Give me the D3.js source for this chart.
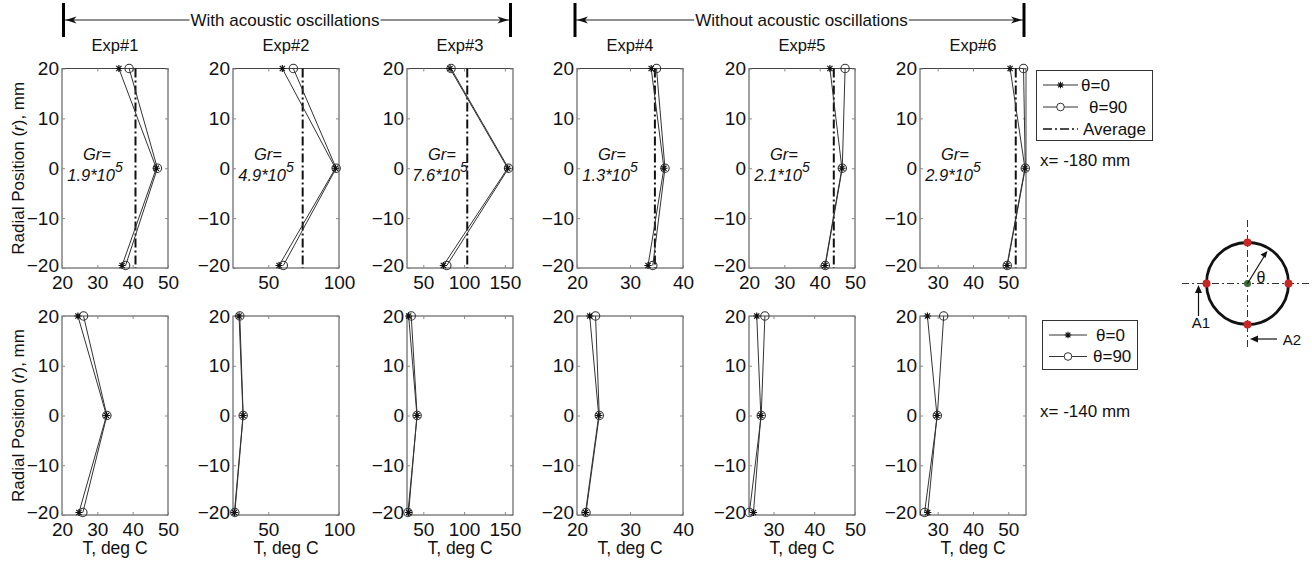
<!DOCTYPE html>
<html><head><meta charset="utf-8">
<script src="https://cdn.jsdelivr.net/npm/d3@7"></script>
<style>
body{margin:0;background:#fff}
svg{display:block}
text{font-family:"Liberation Sans",Arial,Helvetica,sans-serif;fill:#111}
</style>
</head><body>
<svg id="c" width="1312" height="562"></svg>
<script>
// ---------------- data ----------------
const experiments = ["Exp#1","Exp#2","Exp#3","Exp#4","Exp#5","Exp#6"];
const radialPos = [20, 0, -19.5];
const grMantissa = ["1.9","4.9","7.6","1.3","2.1","2.9"];
const yTicks = [-20,-10,0,10,20];

// x = -180 mm (top row)
const topDomains = [[20,50],[25,100],[30,160],[20,40],[20,50],[25,55]];
const topTicks = [[20,30,40,50],[50,100],[50,100,150],[20,30,40],[20,30,40,50],[30,40,50]];
const topTheta0 = [
  [36.1, 46.7, 37.0],
  [59.9, 97.5, 57.6],
  [82.8,153.5, 74.6],
  [34.0, 36.4, 33.4],
  [42.9, 46.3, 41.5],
  [50.5, 54.7, 49.6]
];
const topTheta90 = [
  [39.0, 47.0, 38.0],
  [67.7, 98.0, 60.6],
  [84.0,154.5, 78.8],
  [35.0, 36.6, 34.3],
  [47.2, 46.4, 41.6],
  [54.3, 54.8, 49.7]
];
const topAverage = [40.8, 74.3, 103.9, 34.7, 44.0, 52.1];

// x = -140 mm (bottom row)
const botDomains = [[20,50],[25,100],[30,160],[20,40],[24,50],[25,55]];
const botTicks = [[20,30,40,50],[50,100],[50,100,150],[20,30,40],[30,40,50],[30,40,50]];
const botTheta0 = [
  [24.5, 32.6, 24.8],
  [29.3, 32.1, 26.0],
  [32.0, 42.2, 32.0],
  [22.4, 24.1, 21.6],
  [25.9, 26.9, 25.1],
  [27.1, 29.8, 27.2]
];
const botTheta90 = [
  [26.1, 32.7, 25.9],
  [29.8, 32.2, 26.3],
  [35.2, 42.4, 31.2],
  [23.5, 24.2, 21.7],
  [27.9, 27.0, 24.1],
  [31.7, 29.9, 26.3]
];

// ---------------- layout ----------------
const svg = d3.select("#c");
const panelLeft = [62, 233, 407, 577, 749, 920];
const panelW = 106;
const rows = [
  {top:68.5, bottom:268, domains:topDomains, ticks:topTicks, s0:topTheta0, s90:topTheta90, avg:topAverage, gr:true},
  {top:316, bottom:515, domains:botDomains, ticks:botTicks, s0:botTheta0, s90:botTheta90, avg:null, gr:false}
];
const lineCol = "#333";

function starPath(s){
  const a = s*0.72;
  return `M${-s},0H${s}M0,${-s}V${s}M${-a},${-a}L${a},${a}M${-a},${a}L${a},${-a}`;
}

rows.forEach((row, ri) => {
  const y = d3.scaleLinear().domain([-20,20]).range([row.bottom,row.top]);
  panelLeft.forEach((left, i) => {
    const x = d3.scaleLinear().domain(row.domains[i]).range([left, left+panelW]);
    const g = svg.append("g");
    g.append("rect").attr("x",left).attr("y",row.top).attr("width",panelW)
      .attr("height",row.bottom-row.top).attr("fill","none").attr("stroke","#444").attr("stroke-width",1);
    const ax = g.append("g").attr("transform",`translate(0,${row.bottom})`)
      .call(d3.axisBottom(x).tickValues(row.ticks[i]).tickSizeInner(-3).tickSizeOuter(0).tickPadding(7));
    const axT = g.append("g").attr("transform",`translate(0,${row.top})`)
      .call(d3.axisTop(x).tickValues(row.ticks[i]).tickSizeInner(-3).tickSizeOuter(0).tickFormat(""));
    const ay = g.append("g").attr("transform",`translate(${left},0)`)
      .call(d3.axisLeft(y).tickValues(yTicks).tickSizeInner(-3).tickSizeOuter(0).tickPadding(3));
    const ayR = g.append("g").attr("transform",`translate(${left+panelW},0)`)
      .call(d3.axisRight(y).tickValues(yTicks).tickSizeInner(-3).tickSizeOuter(0).tickFormat(""));
    [ax,axT,ay,ayR].forEach(a => {
      a.select(".domain").remove();
      a.selectAll("line").attr("stroke","#888");
      a.selectAll("text").attr("font-size",19).attr("fill","#111")
        .style("font-family","'Liberation Sans',Arial,sans-serif");
    });
    ax.selectAll("text").attr("dy","0.74em");
    ay.selectAll("text").filter(d => d === -20).attr("dy","0.2em");
    if (row.avg) {
      g.append("line").attr("x1",x(row.avg[i])).attr("x2",x(row.avg[i]))
        .attr("y1",y(20)).attr("y2",y(-20)).attr("stroke","#111").attr("stroke-width",2)
        .attr("stroke-dasharray","9,3,2,3");
    }
    const line = d3.line().x(d=>x(d[0])).y(d=>y(d[1]));
    const d0 = row.s0[i].map((v,k)=>[v,radialPos[k]]);
    const d90 = row.s90[i].map((v,k)=>[v,radialPos[k]]);
    g.append("path").attr("d",line(d90)).attr("fill","none").attr("stroke",lineCol).attr("stroke-width",1);
    g.append("path").attr("d",line(d0)).attr("fill","none").attr("stroke",lineCol).attr("stroke-width",1);
    g.selectAll(".c90").data(d90).enter().append("circle")
      .attr("cx",d=>x(d[0])).attr("cy",d=>y(d[1])).attr("r",4.2)
      .attr("fill","none").attr("stroke",lineCol).attr("stroke-width",1.1);
    g.selectAll(".s0").data(d0).enter().append("path")
      .attr("transform",d=>`translate(${x(d[0])},${y(d[1])})`).attr("d",starPath(3.6))
      .attr("stroke","#111").attr("stroke-width",1.2).attr("fill","none");
    if (row.gr) {
      const cx = left + 35, mid = (row.top+row.bottom)/2;
      g.append("text").attr("x",cx).attr("y",mid-8).attr("text-anchor","middle")
        .attr("font-size",16.5).attr("font-style","italic").text("Gr=");
      const t = g.append("text").attr("x",cx-2).attr("y",mid+13).attr("text-anchor","middle")
        .attr("font-size",16.5).attr("font-style","italic");
      t.append("tspan").text(grMantissa[i]+"*10");
      t.append("tspan").attr("dy",-9).attr("font-size",14).text("5");
    }
    if (ri===0) {
      svg.append("text").attr("x",left+panelW/2).attr("y",51).attr("text-anchor","middle")
        .attr("font-size",16.5).text(experiments[i]);
    } else {
      svg.append("text").attr("x",left+panelW/2).attr("y",554).attr("text-anchor","middle")
        .attr("font-size",17.5).text("T, deg C");
    }
    if (i===0) {
      const ty = svg.append("text").attr("transform",`translate(18,${(row.top+row.bottom)/2}) rotate(-90)`)
        .attr("text-anchor","middle").attr("dominant-baseline","central").attr("font-size",17);
      ty.append("tspan").text("Radial Position (");
      ty.append("tspan").attr("font-style","italic").text("r");
      ty.append("tspan").text("), mm");
    }
  });
});

// ---------------- brackets ----------------
const brackets = [
  {label:"With acoustic oscillations", x0:63.5, x1:510.5, cx:285},
  {label:"Without acoustic oscillations", x0:575, x1:1024, cx:801.5}
];
brackets.forEach(b => {
  const yy = 20;
  const t = svg.append("text").attr("x",b.cx).attr("y",yy+6).attr("text-anchor","middle")
    .attr("font-size",17).text(b.label);
  const w = t.node().getComputedTextLength();
  svg.append("line").attr("x1",b.x0).attr("x2",b.cx-w/2-1).attr("y1",yy).attr("y2",yy).attr("stroke","#222").attr("stroke-width",1);
  svg.append("line").attr("x1",b.cx+w/2+1).attr("x2",b.x1).attr("y1",yy).attr("y2",yy).attr("stroke","#222").attr("stroke-width",1);
  [b.x0,b.x1].forEach(xb => {
    svg.append("line").attr("x1",xb).attr("x2",xb).attr("y1",3).attr("y2",37).attr("stroke","#000").attr("stroke-width",3);
  });
  svg.append("path").attr("d",`M${b.x0+2},${yy}L${b.x0+13},${yy-3.5}L${b.x0+10},${yy}L${b.x0+13},${yy+3.5}Z`).attr("fill","#111");
  svg.append("path").attr("d",`M${b.x1-2},${yy}L${b.x1-13},${yy-3.5}L${b.x1-10},${yy}L${b.x1-13},${yy+3.5}Z`).attr("fill","#111");
});

// ---------------- legends ----------------
function legend(x0,y0,w,h,items){
  const g = svg.append("g");
  g.append("rect").attr("x",x0).attr("y",y0).attr("width",w).attr("height",h)
    .attr("fill","#fff").attr("stroke","#333").attr("stroke-width",1);
  items.forEach(it => {
    const ln = g.append("line").attr("x1",it.lx0).attr("x2",it.lx1).attr("y1",it.y).attr("y2",it.y)
      .attr("stroke",it.type==="avg"?"#111":lineCol).attr("stroke-width",it.type==="avg"?1.5:1);
    const mx = (it.lx0+it.lx1)/2;
    if (it.type==="avg") ln.attr("stroke-dasharray","9,3,2,3");
    if (it.type==="star") g.append("path").attr("transform",`translate(${mx},${it.y})`).attr("d",starPath(3.3))
      .attr("stroke","#111").attr("stroke-width",1.1);
    if (it.type==="circ") g.append("circle").attr("cx",mx).attr("cy",it.y).attr("r",3.8)
      .attr("fill","#fff").attr("stroke",lineCol);
    g.append("text").attr("x",it.tx).attr("y",it.y).attr("dominant-baseline","central")
      .attr("font-size",17).text(it.label);
  });
}
legend(1036.5,70.5,116,70,[
  {type:"star",label:"\u03b8=0",y:85,lx0:1043,lx1:1078,tx:1081},
  {type:"circ",label:"\u03b8=90",y:107,lx0:1043,lx1:1078,tx:1089},
  {type:"avg",label:"Average",y:129,lx0:1043,lx1:1078,tx:1083}
]);
legend(1042.5,320.5,95,49,[
  {type:"star",label:"\u03b8=0",y:335,lx0:1049,lx1:1087,tx:1096},
  {type:"circ",label:"\u03b8=90",y:356.5,lx0:1049,lx1:1087,tx:1093}
]);
svg.append("text").attr("x",1040).attr("y",160).attr("dominant-baseline","central").attr("font-size",17).text("x= -180 mm");
svg.append("text").attr("x",1040).attr("y",411.5).attr("dominant-baseline","central").attr("font-size",17).text("x= -140 mm");

// ---------------- cross-section sketch ----------------
const cxc = 1247.5, cyc = 283.5, rc = 41;
const sk = svg.append("g");
sk.append("line").attr("x1",1182).attr("x2",1311).attr("y1",cyc).attr("y2",cyc)
  .attr("stroke","#333").attr("stroke-width",1).attr("stroke-dasharray","7,3,2,3");
sk.append("line").attr("x1",cxc).attr("x2",cxc).attr("y1",220).attr("y2",347)
  .attr("stroke","#333").attr("stroke-width",1).attr("stroke-dasharray","7,3,2,3");
sk.append("circle").attr("cx",cxc).attr("cy",cyc).attr("r",rc).attr("fill","none").attr("stroke","#111").attr("stroke-width",2.8);
[[0,-1],[1,0],[0,1],[-1,0]].forEach(([dx,dy]) => {
  sk.append("circle").attr("cx",cxc+dx*rc).attr("cy",cyc+dy*rc).attr("r",4).attr("fill","#c62828");
});
sk.append("circle").attr("cx",cxc).attr("cy",cyc).attr("r",3.5).attr("fill","#3d6b3a");
sk.append("line").attr("x1",cxc).attr("y1",cyc).attr("x2",1265).attr("y2",255).attr("stroke","#111").attr("stroke-width",1.2);
sk.append("path").attr("d","M1267.5,251L1260.5,254.5L1265.5,258Z").attr("fill","#111");
sk.append("text").attr("x",1261).attr("y",277).attr("text-anchor","middle").attr("dominant-baseline","central")
  .attr("font-size",16).text("\u03b8");
sk.append("line").attr("x1",1198.5).attr("x2",1198.5).attr("y1",316).attr("y2",290).attr("stroke","#111").attr("stroke-width",1.2);
sk.append("path").attr("d","M1198.5,285L1195,293L1202,293Z").attr("fill","#111");
sk.append("text").attr("x",1201).attr("y",322).attr("text-anchor","middle").attr("dominant-baseline","central")
  .attr("font-size",15).text("A1");
sk.append("line").attr("x1",1277).attr("x2",1255).attr("y1",339).attr("y2",339).attr("stroke","#111").attr("stroke-width",1.2);
sk.append("path").attr("d","M1250,339L1258,335.5L1258,342.5Z").attr("fill","#111");
sk.append("text").attr("x",1292).attr("y",339).attr("text-anchor","middle").attr("dominant-baseline","central")
  .attr("font-size",15).text("A2");
</script>
</body></html>
